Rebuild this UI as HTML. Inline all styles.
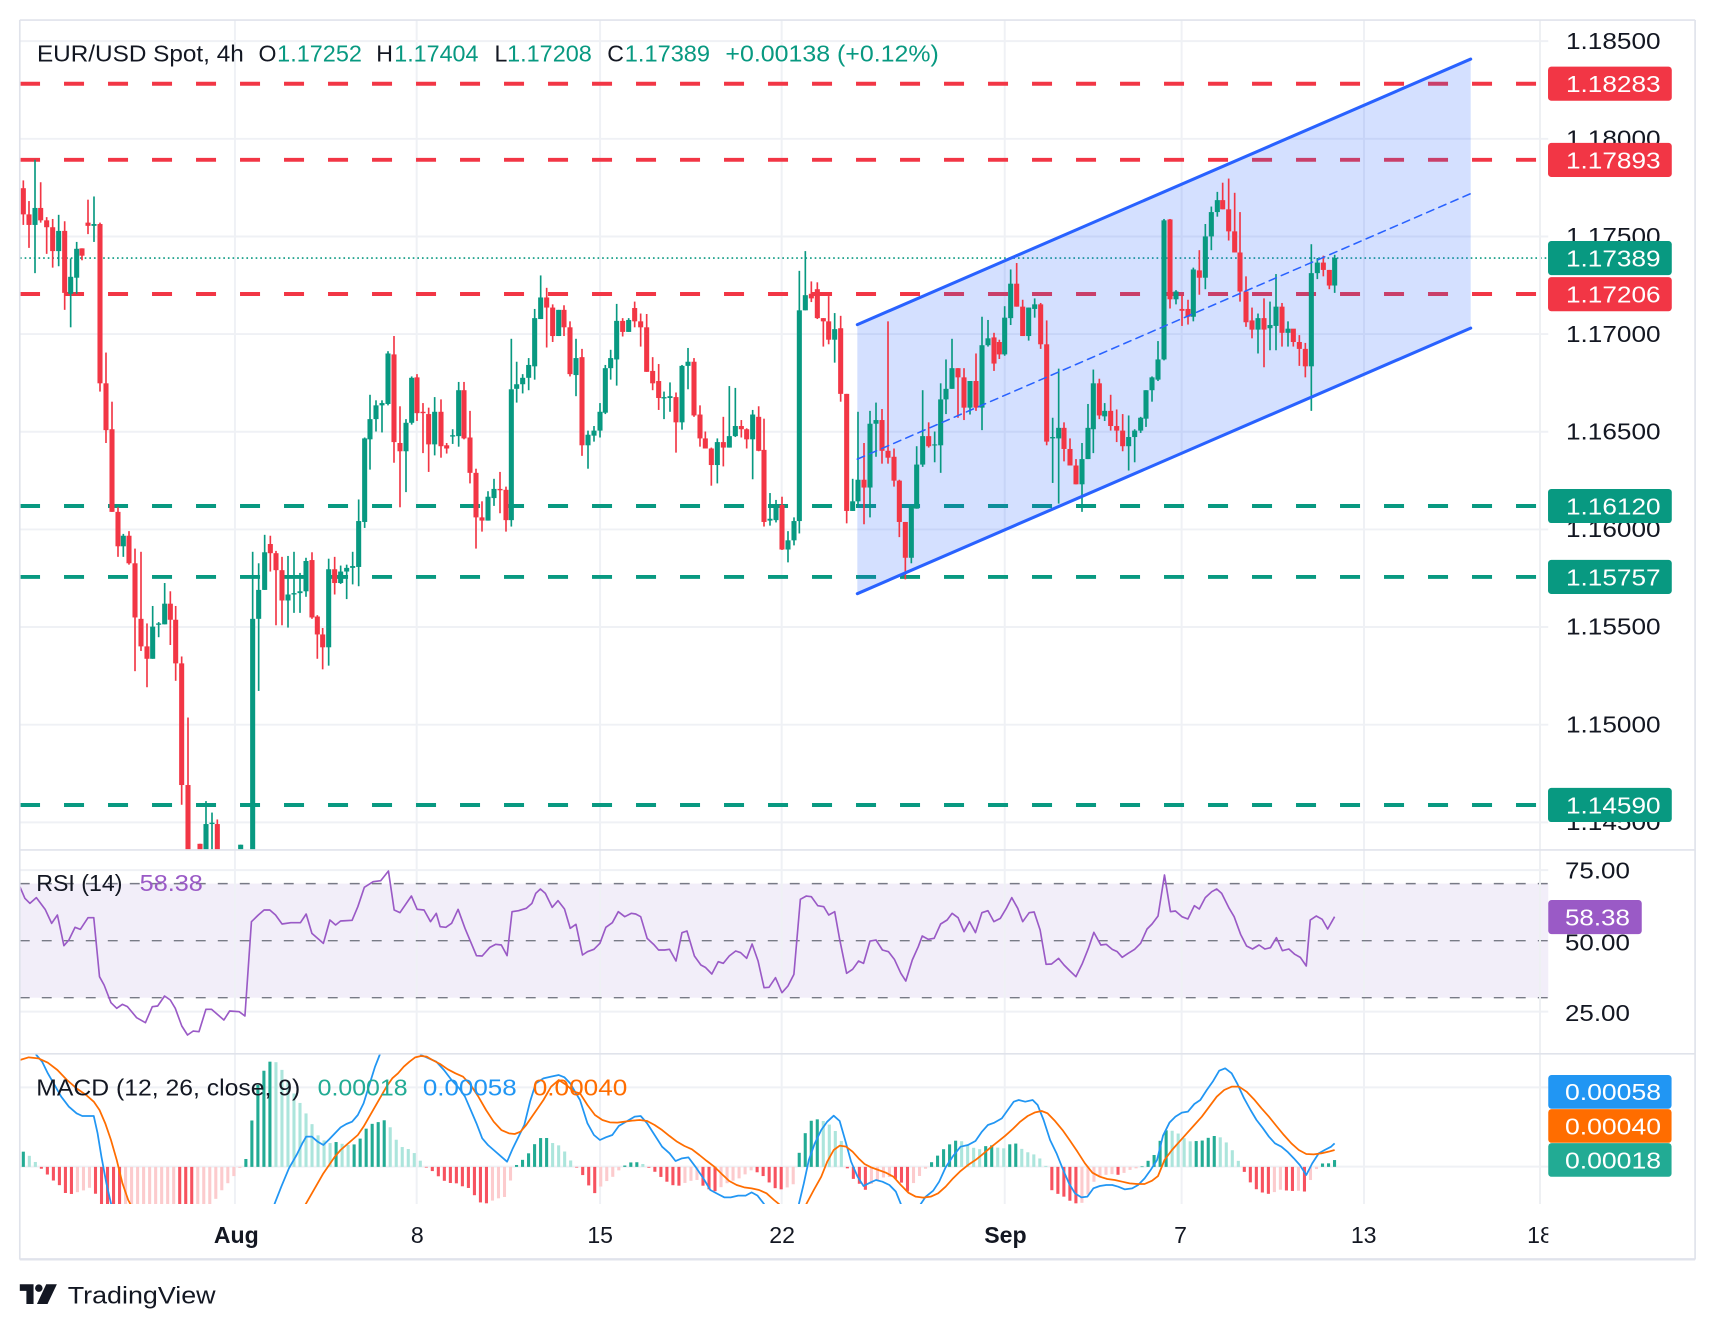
<!DOCTYPE html>
<html><head><meta charset="utf-8">
<style>
html,body{margin:0;padding:0;background:#fff;}
svg{display:block;}
text{font-family:"Liberation Sans",Arial,sans-serif;}
</style></head>
<body>
<svg id="s" width="1716" height="1330" viewBox="0 0 1560 1209.09">
<defs>
<clipPath id="cp"><rect x="18" y="18.2" width="1389.5" height="754.5"/></clipPath>
<clipPath id="cr"><rect x="18" y="772.7" width="1389.5" height="185.3"/></clipPath>
<clipPath id="cm"><rect x="18" y="958" width="1389.5" height="136.5"/></clipPath>
<clipPath id="ct"><rect x="18" y="1095" width="1389.5" height="50"/></clipPath>
</defs>
<rect width="1560" height="1209.09" fill="#fff"/>

<!-- price gridlines -->
<g stroke="#eff1f5" stroke-width="1.8">
<line x1="18" x2="1407.5" y1="37.4" y2="37.4"/>
<line x1="18" x2="1407.5" y1="126.2" y2="126.2"/>
<line x1="18" x2="1407.5" y1="215" y2="215"/>
<line x1="18" x2="1407.5" y1="303.7" y2="303.7"/>
<line x1="18" x2="1407.5" y1="392.5" y2="392.5"/>
<line x1="18" x2="1407.5" y1="481.3" y2="481.3"/>
<line x1="18" x2="1407.5" y1="570" y2="570"/>
<line x1="18" x2="1407.5" y1="658.8" y2="658.8"/>
<line x1="18" x2="1407.5" y1="747.6" y2="747.6"/>
</g>

<!-- RSI background band & grid -->
<rect x="18" y="803.3" width="1389.5" height="103.7" fill="#f2eef9"/>
<g stroke="#eff1f5" stroke-width="1.8">
<line x1="18" x2="1407.5" y1="791" y2="791"/>
<line x1="18" x2="1407.5" y1="919.7" y2="919.7"/>
<line x1="18" x2="1407.5" y1="988.5" y2="988.5"/>
<line x1="18" x2="1407.5" y1="1060.6" y2="1060.6"/>
</g>

<!-- vertical gridlines -->
<g stroke="#eff1f5" stroke-width="1.8">
<line x1="213.6" x2="213.6" y1="18.2" y2="1094.5"/>
<line x1="378.8" x2="378.8" y1="18.2" y2="1094.5"/>
<line x1="545.5" x2="545.5" y1="18.2" y2="1094.5"/>
<line x1="710.6" x2="710.6" y1="18.2" y2="1094.5"/>
<line x1="913.4" x2="913.4" y1="18.2" y2="1094.5"/>
<line x1="1074.2" x2="1074.2" y1="18.2" y2="1094.5"/>
<line x1="1240" x2="1240" y1="18.2" y2="1094.5"/>
</g>

<!-- RSI dashed levels -->
<g stroke="#787b86" stroke-width="1.3" stroke-dasharray="9 11">
<line x1="18" x2="1407.5" y1="803.3" y2="803.3"/>
<line x1="18" x2="1407.5" y1="855.2" y2="855.2"/>
<line x1="18" x2="1407.5" y1="907" y2="907"/>
</g>

<!-- horizontal S/R dashed lines -->
<g stroke-width="3.6" stroke-dasharray="18.2 21.8">
<line x1="18.2" x2="1407" y1="76.1" y2="76.1" stroke="#f23645"/>
<line x1="18.2" x2="1407" y1="145.3" y2="145.3" stroke="#f23645"/>
<line x1="18.2" x2="1407" y1="267.3" y2="267.3" stroke="#f23645"/>
<line x1="18.2" x2="1407" y1="460" y2="460" stroke="#089981"/>
<line x1="18.2" x2="1407" y1="524.5" y2="524.5" stroke="#089981"/>
<line x1="18.2" x2="1407" y1="731.8" y2="731.8" stroke="#089981"/>
</g>
<line x1="18.2" x2="1407" y1="234.6" y2="234.6" stroke="#089981" stroke-width="1.4" stroke-dasharray="1.5 2.7"/>

<!-- channel fill -->
<polygon points="779.4,295.1 1337,53.7 1337,298.3 779.4,539.7" fill="rgba(41,98,255,0.2)"/>

<!-- candles -->
<g id="candles" clip-path="url(#cp)"></g>

<!-- channel lines -->
<g stroke="#2962ff" stroke-linecap="round">
<line x1="779.4" y1="295.1" x2="1337" y2="53.7" stroke-width="2.8"/>
<line x1="779.4" y1="539.7" x2="1337" y2="298.3" stroke-width="2.8"/>
<line x1="779.4" y1="417.4" x2="1337" y2="176" stroke-width="1.4" stroke-dasharray="7 5"/>
</g>

<!-- header -->
<g font-size="21">
<text x="33.6" y="56" textLength="188" lengthAdjust="spacingAndGlyphs" fill="#131722">EUR/USD Spot, 4h</text>
<text x="235" y="56" fill="#131722">O</text>
<text x="252" y="56" textLength="77" lengthAdjust="spacingAndGlyphs" fill="#089981">1.17252</text>
<text x="342" y="56" fill="#131722">H</text>
<text x="358.4" y="56" textLength="76.6" lengthAdjust="spacingAndGlyphs" fill="#089981">1.17404</text>
<text x="449.5" y="56" fill="#131722">L</text>
<text x="461" y="56" textLength="77" lengthAdjust="spacingAndGlyphs" fill="#089981">1.17208</text>
<text x="552" y="56" fill="#131722">C</text>
<text x="568" y="56" textLength="77.5" lengthAdjust="spacingAndGlyphs" fill="#089981">1.17389</text>
<text x="659.5" y="56" textLength="194" lengthAdjust="spacingAndGlyphs" fill="#089981">+0.00138 (+0.12%)</text>
</g>

<!-- RSI -->
<g id="rsi" clip-path="url(#cr)"></g>
<g font-size="21">
<text x="33" y="810" textLength="78.3" lengthAdjust="spacingAndGlyphs" fill="#131722">RSI (14)</text>
<text x="127" y="810" textLength="57.4" lengthAdjust="spacingAndGlyphs" fill="#9a5ac6">58.38</text>
</g>

<!-- MACD -->
<g id="hist" clip-path="url(#cm)"></g>
<g id="macd" clip-path="url(#cm)"></g>
<g font-size="21">
<text x="33" y="996" textLength="240" lengthAdjust="spacingAndGlyphs" fill="#131722">MACD (12, 26, close, 9)</text>
<text x="288.8" y="996" textLength="81.7" lengthAdjust="spacingAndGlyphs" fill="#22ab94">0.00018</text>
<text x="384.4" y="996" textLength="85.3" lengthAdjust="spacingAndGlyphs" fill="#2196f3">0.00058</text>
<text x="484.3" y="996" textLength="86" lengthAdjust="spacingAndGlyphs" fill="#ff6d00">0.00040</text>
</g>

<!-- separators and frame -->
<line x1="1400" x2="1400" y1="18.2" y2="1094.5" stroke="#eef0f3" stroke-width="1.8"/>
<g stroke="#e0e3eb" stroke-width="1.5" fill="none">
<line x1="18" x2="1541" y1="772.7" y2="772.7"/>
<line x1="18" x2="1541" y1="958" y2="958"/>
<line x1="18" x2="1541" y1="18.2" y2="18.2"/>
<line x1="18" x2="18" y1="18.2" y2="1145"/>
<line x1="1541" x2="1541" y1="18.2" y2="1145"/>
<line x1="18" x2="1541" y1="1144.8" y2="1144.8" stroke-width="2.2"/>
</g>

<!-- price axis tick labels -->
<g font-size="21" fill="#131722">
<text x="1423.6" y="44.4" textLength="86" lengthAdjust="spacingAndGlyphs">1.18500</text>
<text x="1423.6" y="133.2" textLength="86" lengthAdjust="spacingAndGlyphs">1.18000</text>
<text x="1423.6" y="222" textLength="86" lengthAdjust="spacingAndGlyphs">1.17500</text>
<text x="1423.6" y="310.7" textLength="86" lengthAdjust="spacingAndGlyphs">1.17000</text>
<text x="1423.6" y="399.5" textLength="86" lengthAdjust="spacingAndGlyphs">1.16500</text>
<text x="1423.6" y="488.3" textLength="86" lengthAdjust="spacingAndGlyphs">1.16000</text>
<text x="1423.6" y="577" textLength="86" lengthAdjust="spacingAndGlyphs">1.15500</text>
<text x="1423.6" y="665.8" textLength="86" lengthAdjust="spacingAndGlyphs">1.15000</text>
<text x="1423.6" y="754.6" textLength="86" lengthAdjust="spacingAndGlyphs">1.14500</text>
<text x="1422.7" y="798.6" textLength="59" lengthAdjust="spacingAndGlyphs">75.00</text>
<text x="1422.7" y="864" textLength="59" lengthAdjust="spacingAndGlyphs">50.00</text>
<text x="1422.7" y="928" textLength="59" lengthAdjust="spacingAndGlyphs">25.00</text>
</g>

<!-- price label boxes -->
<g>
<rect x="1407.3" y="60.6" width="112.5" height="31" rx="3" fill="#f23645"/>
<rect x="1407.3" y="129.9" width="112.5" height="31" rx="3" fill="#f23645"/>
<rect x="1407.3" y="219.1" width="112.5" height="31" rx="3" fill="#089981"/>
<rect x="1407.3" y="251.9" width="112.5" height="31" rx="3" fill="#f23645"/>
<rect x="1407.3" y="444.5" width="112.5" height="31" rx="3" fill="#089981"/>
<rect x="1407.3" y="509" width="112.5" height="31" rx="3" fill="#089981"/>
<rect x="1407.3" y="716.3" width="112.5" height="31" rx="3" fill="#089981"/>
<rect x="1407.5" y="818.2" width="85" height="31" rx="3" fill="#9a5ac6"/>
<rect x="1407.5" y="977.3" width="112.1" height="30.6" rx="3" fill="#2196f3"/>
<rect x="1407.5" y="1008.3" width="112.1" height="30.6" rx="3" fill="#ff6d00"/>
<rect x="1407.5" y="1039.2" width="112.1" height="30.6" rx="3" fill="#22ab94"/>
</g>
<g font-size="21" fill="#ffffff">
<text x="1423.6" y="83.7" textLength="86" lengthAdjust="spacingAndGlyphs">1.18283</text>
<text x="1423.6" y="153" textLength="86" lengthAdjust="spacingAndGlyphs">1.17893</text>
<text x="1423.6" y="242.2" textLength="86" lengthAdjust="spacingAndGlyphs">1.17389</text>
<text x="1423.6" y="275" textLength="86" lengthAdjust="spacingAndGlyphs">1.17206</text>
<text x="1423.6" y="467.6" textLength="86" lengthAdjust="spacingAndGlyphs">1.16120</text>
<text x="1423.6" y="532.1" textLength="86" lengthAdjust="spacingAndGlyphs">1.15757</text>
<text x="1423.6" y="739.4" textLength="86" lengthAdjust="spacingAndGlyphs">1.14590</text>
<text x="1422.7" y="841.3" textLength="59" lengthAdjust="spacingAndGlyphs">58.38</text>
<text x="1422.7" y="1000.2" textLength="87.3" lengthAdjust="spacingAndGlyphs">0.00058</text>
<text x="1422.7" y="1031.2" textLength="87.3" lengthAdjust="spacingAndGlyphs">0.00040</text>
<text x="1422.7" y="1062.1" textLength="87.3" lengthAdjust="spacingAndGlyphs">0.00018</text>
</g>

<!-- time axis -->
<g font-size="21" fill="#131722" text-anchor="middle" clip-path="url(#ct)">
<text x="214.8" y="1130" font-weight="bold">Aug</text>
<text x="379.4" y="1130">8</text>
<text x="545.6" y="1130">15</text>
<text x="711" y="1130">22</text>
<text x="914" y="1130" font-weight="bold">Sep</text>
<text x="1073.2" y="1130">7</text>
<text x="1239.7" y="1130">13</text>
<text x="1400" y="1130">18</text>
</g>

<!-- logo -->
<g fill="#131722">
<path d="M18 1167.5 H30.5 V1185.5 H24 V1173.5 H18 Z"/>
<circle cx="35.3" cy="1171" r="3.4"/>
<path d="M42 1167.5 H51.7 L43.2 1185.5 H33.6 Z"/>
<text x="61.6" y="1185" font-size="22" textLength="134.4" lengthAdjust="spacingAndGlyphs">TradingView</text>
</g>
</svg>

<script>
(function(){
function f(v){return v.toFixed(2);}
var Y6=function(py){return 127.27+py*0.41736;};
var z6=[[10,0,105,162,88,185],[27,0,162,185,133,235],[45,1,148,185,43,290],[62,0,148,175,92,180],[80,0,175,190,168,248],[98,0,190,242,172,278],[116,1,198,242,163,275],[134,0,198,333,177,370],[152,1,298,335,258,408],[170,1,237,300,222,335],[186,0,236,252,236,262],[204,0,180,187,130,205],[222,1,183,187,123,222],[240,0,183,530,180,548],[258,0,530,632,463,660],[276,0,630,810,570,810],[294,0,810,885,800,908],[310,1,862,885,858,908],[327,0,862,922,852,925],[345,0,922,1040,890,1157],[363,0,1043,1103,897,1113],[381,0,1103,1130,1053,1192],[398,1,1060,1130,1015,1130],[416,1,1053,1056,1050,1083],[434,1,1010,1055,965,1055],[451,0,1010,1045,983,1100],[467,0,1045,1140,1015,1178],[485,0,1140,1405,1125,1448],[504,0,1405,1700,1258,1700],[540,0,1533,1700,1533,1700],[558,1,1490,1700,1440,1700],[576,1,1487,1490,1465,1700],[592,0,1490,1700,1480,1700],[662,1,1535,1700,1535,1700],[698,1,1043,1700,897,1700],[716,1,980,1043,922,1200],[734,1,898,980,860,980],[751,0,880,900,862,940],[768,0,900,937,895,1057],[786,0,937,1003,908,1057],[804,1,990,1003,906,1062],[822,1,987,990,897,1030],[840,1,983,987,943,1030],[858,1,917,983,910,995],[876,0,915,1040,898,1043],[892,0,1038,1077,1035,1130],[908,0,1077,1105,1063,1153],[926,1,935,1105,912,1145],[944,0,935,965,908,990],[962,1,940,965,927,967],[980,1,932,940,925,1000],[998,1,928,932,897,968],[1016,1,830,930,783,972],[1034,1,650,832,648,845],[1050,1,608,652,555,718],[1068,1,578,608,567,635],[1086,1,573,578,567,637],[1104,1,465,575,460,578],[1122,0,467,658,427,703],[1140,0,660,678,580,800],[1158,1,616,678,608,767],[1175,1,518,616,515,620],[1191,0,517,595,510,612],[1209,0,592,595,573,682],[1226,0,597,663,583,723],[1244,1,592,663,560,687]];
var z7=[[33,0,592,667,565,692],[50,0,665,672,660,683],[68,1,643,646,630,662],[86,1,545,645,527,668],[102,0,545,650,527,652],[120,0,648,725,590,748],[138,0,725,822,716,890],[156,0,822,829,787,853],[174,1,777,829,765,829],[192,1,760,780,738,797],[210,0,760,763,723,813],[228,0,762,828,755,853],[244,1,543,828,433,842],[260,1,532,542,483,572],[278,1,518,532,510,552],[296,1,490,518,475,545],[314,1,388,493,368,522],[332,1,343,390,295,390],[350,0,343,365,322,452],[368,0,365,427,358,440],[386,1,370,427,370,427],[402,0,370,408,360,427],[420,0,408,510,395,515],[438,1,475,512,433,558],[456,0,473,665,455,688],[474,1,642,665,633,716],[492,1,633,644,623,657],[510,1,592,633,573,648],[526,1,497,594,490,597],[542,1,475,497,457,522],[560,1,394,478,357,535],[578,0,394,418,388,428],[596,1,392,418,388,418],[614,0,366,395,352,408],[632,0,395,408,378,450],[650,0,408,505,379,505],[668,0,503,530,473,545],[686,0,525,562,488,588],[702,1,560,563,548,608],[720,1,558,562,528,592],[738,0,560,615,550,681],[756,1,492,615,490,631],[774,1,483,492,453,543],[792,0,483,600,475,603],[810,0,598,650,578,668],[826,0,650,672,635,672],[844,0,672,708,670,753],[862,1,658,708,650,748],[880,0,658,670,603,711],[898,1,645,670,536,670],[916,1,623,645,540,647],[934,0,623,630,610,648],[950,0,630,652,628,672],[968,1,598,652,588,739],[986,0,603,677,580,678],[1002,0,675,832,607,842],[1020,1,825,829,769,840],[1038,1,797,828,784,833],[1056,0,795,892,777,893],[1074,1,872,892,852,920],[1092,1,830,872,822,883],[1108,1,371,830,285,857],[1126,1,338,371,242,371],[1144,0,335,345,308,353],[1162,0,325,388,310,390],[1180,0,388,395,388,450],[1196,0,395,435,340,445],[1214,1,412,435,377,485],[1232,0,410,553,383,570],[1250,0,553,808,553,835]];
var z8=[[38,1,787,808,738,808],[54,1,740,787,592,797],[72,0,740,757,660,837],[90,1,618,757,590,822],[108,1,610,618,572,690],[126,0,610,677,586,705],[144,0,677,692,395,705],[162,0,690,742,672,755],[178,0,742,832,740,865],[196,0,832,910,832,957],[214,1,797,910,797,922],[230,1,707,803,667,803],[248,1,645,707,545,712],[266,0,645,667,615,670],[284,1,663,665,635,702],[302,1,565,665,530,725],[318,1,542,565,478,597],[336,1,497,542,433,542],[354,0,497,517,497,605],[372,0,517,583,497,610],[390,1,525,583,525,598],[408,0,525,583,465,590],[426,1,447,583,385,632],[444,1,432,447,392,450],[462,0,430,487,420,503],[478,0,440,467,435,477],[494,1,387,467,362,470],[512,1,313,388,282,403],[530,0,313,363,268,363],[548,0,363,427,348,427],[566,1,365,427,365,437],[584,1,358,368,345,387],[602,0,358,445,355,455],[620,0,445,657,393,665],[638,1,647,650,605,747],[656,1,627,650,498,792],[672,0,627,673,615,700],[690,0,673,709,650,709],[708,0,709,750,695,750],[726,1,695,750,660,810],[744,1,627,695,575,695],[760,1,530,630,500,682],[778,0,530,600,520,608],[794,1,590,602,573,612],[812,0,590,623,555,633],[830,0,623,633,587,658],[848,0,633,667,597,678],[866,1,647,667,600,720],[884,1,633,647,630,702],[902,1,605,633,603,638],[918,1,545,607,545,625],[936,1,517,545,515,570],[954,1,478,522,438,525],[972,1,175,478,172,480],[990,0,173,347,172,367],[1008,1,330,347,327,358],[1026,0,368,372,337,405],[1044,0,368,385,348,402],[1060,1,282,385,278,395],[1078,0,284,300,240,337],[1096,1,210,300,183,325],[1114,1,157,210,145,240],[1132,1,131,157,113,167],[1148,0,131,151,93,151],[1166,0,151,199,84,219],[1184,0,199,245,115,245],[1200,0,245,330,157,352],[1218,0,330,397,297,407],[1236,0,393,413,365,432],[1254,1,388,413,378,465],[1272,0,388,413,345,495],[1290,1,403,410,352,458],[1308,1,363,405,292,458],[1326,0,363,420,355,450],[1344,1,411,420,395,450],[1360,0,411,440,412,450],[1378,0,440,455,425,492],[1396,0,455,493,442,517],[1414,1,290,493,227,590],[1432,1,267,290,257,303],[1450,0,267,283,252,297],[1468,0,283,317,283,325],[1484,1,257,317,250,333]];
var out='';
function addC(list,x0){
  for(var i=0;i<list.length;i++){
    var c=list[i];
    var x=x0+c[0]*0.30303;
    var bt=Y6(c[2]),bb=Y6(c[3]),wt=Y6(c[4]),wb=Y6(c[5]);
    var col=c[1]?'#089981':'#f23645';
    out+='<rect x="'+f(x-0.75)+'" y="'+f(wt)+'" width="1.5" height="'+f(Math.max(wb-wt,0.5))+'" fill="'+col+'"/>';
    out+='<rect x="'+f(x-2.3)+'" y="'+f(bt)+'" width="4.6" height="'+f(Math.max(bb-bt,1))+'" fill="'+col+'"/>';
  }
}
addC(z6,18.18);addC(z7,390.91);addC(z8,763.64);
document.getElementById('candles').innerHTML=out;

/* RSI */
var r4=[[52,140],[65,175],[78,190],[95,173],[118,208],[135,250],[150,225],[167,317],[180,300],[196,262],[210,268],[230,233],[245,233],[260,410],[272,435],[290,488],[305,505],[320,493],[333,500],[357,533],[380,548],[398,500],[412,498],[430,468],[445,480],[458,505],[475,558],[490,585],[505,573],[520,575],[538,508],[553,508],[585,540],[600,513],[625,515],[640,528],[657,245],[675,225],[690,210],[705,210],[720,225],[737,252],[760,248],[785,248],[800,222],[815,280],[845,310],[862,240],[877,255],[890,243],[920,241],[935,200],[952,142],[975,125],[995,122],[1015,93],[1030,210],[1045,218],[1075,168],[1090,208],[1108,210],[1125,245],[1140,220],[1150,260],[1165,262],[1180,250],[1197,208],[1215,265],[1245,347],[1260,348],[1280,322],[1295,313],[1310,315],[1325,347],[1338,215],[1355,212],[1375,205],[1390,190],[1400,160],[1412,147],[1425,160],[1443,202],[1458,182],[1475,207],[1490,265],[1505,253]];
var r9=[[5,315],[15,305],[28,298],[40,280],[52,232],[65,218],[77,185],[90,200],[103,190],[112,192],[122,200],[135,265],[148,283],[158,300],[170,300],[180,298],[193,333],[205,248],[215,243],[230,318],[243,345],[252,352],[265,372],[278,335],[288,340],[300,318],[313,303],[323,308],[335,325],[346,282],[358,333],[370,413],[380,412],[393,383],[406,428],[418,408],[430,373],[443,148],[455,138],[465,140],[478,167],[490,170],[500,195],[512,185],[522,268],[536,370],[548,358],[560,333],[570,340],[583,273],[595,270],[608,300],[620,305],[632,328],[645,370],[655,393],[668,330],[680,290],[688,258],[700,268],[712,265],[725,222],[738,210],[748,190],[760,203],[772,245],[783,215],[795,248],[808,188],[820,182],[832,215],[845,205],[857,175],[868,143],[880,175],[890,215],[903,188],[913,186],[925,240],[937,343],[948,342],[962,325],[973,345],[985,363],[997,380],[1010,340],[1022,295],[1033,247],[1047,285],[1058,283],[1070,298],[1080,305],[1090,322],[1102,310],[1115,298],[1127,280],[1140,237],[1150,222],[1162,198],[1175,75],[1187,185],[1197,183],[1210,200],[1222,207],[1235,167],[1245,177],[1257,143],[1270,125],[1280,117],[1290,130],[1305,175],[1315,200],[1328,253],[1340,288],[1352,297],[1365,285],[1377,297],[1388,293],[1400,263],[1412,302],[1425,297],[1437,313],[1448,322],[1460,348],[1468,210],[1480,198],[1492,208],[1503,237],[1517,200]];
function m4(l){return l.map(function(p){return [p[0]*0.34791,763.64+p[1]*0.30303];});}
function m9(l){return l.map(function(p){return [527.27+p[0]*0.45222,772.73+p[1]*0.30303];});}
function m10(l){return l.map(function(p){return [527.27+p[0]*0.45222,954.55+p[1]*0.30303];});}
function pts(a){return a.map(function(p){return f(p[0])+','+f(p[1]);}).join(' ');}
var rs=m4(r4).concat(m9(r9));
document.getElementById('rsi').innerHTML='<polyline points="'+pts(rs)+'" fill="none" stroke="#9a5ac6" stroke-width="1.5" stroke-linejoin="round"/>';

/* MACD */
var b4=[[60,560],[95,645],[110,665],[125,700],[140,730],[160,770],[180,800],[200,820],[215,828],[230,828],[245,828],[255,880],[265,950],[278,1030],[290,1090],[320,1250],[600,1300],[700,1150],[718,1090],[735,1040],[755,985],[775,945],[790,910],[800,890],[815,890],[830,905],[845,915],[860,898],[875,880],[890,862],[905,852],[920,845],[935,825],[950,790],[965,735],[980,680],[992,645],[1010,590],[1050,560],[1090,620],[1100,645],[1120,655],[1140,665],[1160,690],[1180,720],[1200,745],[1215,770],[1230,810],[1245,850],[1260,895],[1275,915],[1290,930],[1310,950],[1325,965],[1340,925],[1355,890],[1370,855],[1385,785],[1400,730],[1420,715],[1440,710],[1460,705],[1475,712],[1490,730],[1505,760]];
var o4=[[52,660],[75,652],[100,655],[125,668],[150,690],[175,720],[200,745],[225,765],[245,785],[260,810],[275,850],[290,900],[305,960],[320,1030],[335,1080],[342,1095],[400,1250],[700,1250],[790,1110],[800,1090],[815,1060],[830,1030],[845,1000],[860,975],[875,950],[890,930],[905,915],[920,900],[935,885],[950,860],[965,830],[980,800],[995,770],[1010,740],[1025,715],[1040,700],[1055,680],[1070,665],[1085,652],[1100,648],[1115,650],[1130,660],[1150,672],[1170,688],[1190,700],[1210,710],[1230,735],[1250,770],[1270,810],[1290,845],[1310,870],[1330,880],[1345,882],[1360,875],[1375,855],[1390,830],[1405,805],[1420,780],[1440,740],[1460,720],[1480,735],[1500,755]];
var b10=[[0,150],[15,220],[28,255],[40,270],[52,262],[65,255],[78,228],[95,213],[110,200],[122,198],[135,220],[150,255],[165,290],[180,310],[192,333],[205,325],[218,322],[232,350],[248,385],[262,420],[277,432],[290,442],[303,442],[318,437],[333,437],[345,427],[357,437],[370,462],[385,530],[425,540],[440,462],[450,400],[460,330],[472,280],[485,240],[497,215],[510,197],[522,213],[533,270],[545,335],[558,380],[570,408],[583,398],[595,390],[608,395],[622,405],[635,425],[645,462],[660,520],[675,500],[685,462],[695,440],[710,422],[722,395],[735,352],[750,318],[765,290],[780,285],[795,273],[808,245],[820,225],[833,218],[848,205],[860,180],[872,155],[882,150],[895,155],[910,150],[920,165],[932,210],[945,270],[958,310],[970,355],[983,400],[995,430],[1008,442],[1020,440],[1032,415],[1045,408],[1058,405],[1070,405],[1082,410],[1095,418],[1110,415],[1122,405],[1135,385],[1148,358],[1160,330],[1172,257],[1185,218],[1197,200],[1210,188],[1222,185],[1235,162],[1247,150],[1260,120],[1272,95],[1285,62],[1297,55],[1310,70],[1322,103],[1335,145],[1348,180],[1360,210],[1372,233],[1385,260],[1397,280],[1410,290],[1422,305],[1435,325],[1447,345],[1460,375],[1472,340],[1485,310],[1497,300],[1510,290],[1517,280]];
var o10=[[0,130],[15,165],[30,195],[45,210],[60,217],[75,218],[90,215],[105,212],[120,210],[135,213],[150,225],[165,240],[180,258],[195,275],[210,288],[225,298],[240,315],[255,333],[270,350],[285,372],[300,393],[315,405],[330,412],[345,415],[360,420],[375,430],[390,450],[400,462],[420,510],[445,500],[455,462],[470,420],[485,380],[497,335],[510,300],[522,287],[535,290],[548,305],[560,325],[572,342],[585,352],[600,360],[615,368],[630,380],[645,405],[660,428],[675,440],[690,443],[705,440],[720,430],[735,410],[750,385],[765,363],[780,345],[795,330],[810,312],[825,293],[840,275],[855,257],[870,237],[885,215],[900,198],[915,187],[928,183],[940,190],[955,213],[970,240],[985,272],[1000,305],[1015,340],[1030,368],[1045,380],[1060,387],[1075,390],[1090,395],[1105,400],[1120,402],[1135,402],[1150,392],[1162,378],[1175,330],[1190,300],[1205,275],[1220,250],[1235,225],[1250,200],[1265,170],[1280,140],[1295,120],[1310,110],[1325,110],[1340,125],[1355,148],[1370,175],[1385,200],[1400,228],[1415,255],[1430,280],[1445,300],[1460,312],[1475,313],[1490,310],[1505,305],[1517,300]];
var h4=[[55,935],[65,935],[75,945],[85,960],[95,968],[105,980],[110,990],[120,998],[135,1020],[150,1025],[165,1055],[180,1065],[195,1058],[210,1055],[225,1048],[240,1040],[258,1080],[270,1100],[290,1130],[310,1150],[330,1140],[400,1120],[460,1110],[475,1120],[505,1140],[520,1130],[535,1110],[550,1095],[565,1075],[580,1050],[595,1030],[610,1010],[625,985],[640,975],[657,850],[672,740],[688,695],[705,665],[720,665],[737,690],[752,720],[768,760],[782,785],[797,815],[812,845],[830,885],[845,900],[860,910],[875,905],[890,910],[905,915],[920,915],[935,910],[950,875],[965,855],[980,848],[995,845],[1010,838],[1025,875],[1040,910],[1055,925],[1072,928],[1088,945],[1100,965],[1112,978],[1120,990],[1135,995],[1150,1015],[1165,1025],[1180,1030],[1195,1030],[1210,1040],[1228,1045],[1245,1075],[1262,1095],[1280,1085],[1295,1078],[1310,1072],[1325,1070],[1338,1000],[1352,970],[1365,960],[1380,942],[1395,915],[1410,895],[1425,890],[1440,908],[1455,912],[1470,925],[1490,960],[1505,978],[1520,1000],[1535,1030]];
var h10=[[28,432],[40,412],[52,395],[65,382],[75,365],[85,352],[98,338],[110,336],[122,338],[135,350],[148,362],[158,375],[170,390],[182,403],[195,410],[208,400],[220,395],[232,385],[245,405],[258,417],[270,425],[283,412],[295,400],[308,392],[320,385],[333,372],[345,360],[358,368],[370,380],[383,402],[395,418],[408,418],[420,410],[432,400],[440,312],[452,252],[465,212],[477,208],[488,212],[500,222],[512,240],[525,270],[535,348],[548,385],[560,398],[572,422],[583,405],[595,392],[608,383],[620,380],[632,385],[645,395],[658,425],[670,400],[680,382],[690,366],[700,345],[712,330],[725,305],[737,290],[750,275],[762,268],[775,282],[787,290],[800,300],[810,293],[822,283],[835,290],[848,298],[858,290],[868,278],[880,282],[890,300],[902,308],[912,313],[922,320],[930,338],[938,350],[948,420],[958,430],[970,437],[982,450],[995,460],[1008,460],[1018,445],[1030,400],[1040,385],[1055,375],[1068,372],[1080,375],[1092,370],[1105,360],[1118,355],[1128,352],[1140,335],[1150,322],[1160,305],[1172,242],[1185,240],[1197,245],[1210,258],[1222,275],[1235,272],[1245,275],[1257,268],[1270,258],[1282,258],[1295,268],[1305,290],[1318,312],[1328,350],[1340,375],[1352,410],[1362,420],[1375,430],[1387,432],[1398,425],[1410,418],[1422,422],[1435,423],[1447,422],[1458,425],[1470,385],[1480,358],[1493,340],[1505,340],[1517,330]];
var H=m4(h4).concat(m10(h10));
function interp(a,x){
  if(x<=a[0][0])return a[0][1];
  for(var i=1;i<a.length;i++){
    if(x<=a[i][0]){var t=(x-a[i-1][0])/(a[i][0]-a[i-1][0]);return a[i-1][1]+t*(a[i][1]-a[i-1][1]);}
  }
  return a[a.length-1][1];
}
var zero=1060.8,hs='',prev=null;
for(var i=0;i<219;i++){
  var x=21.2+i*5.468;
  var y=interp(H,x);
  var v=zero-y;
  var col;
  if(v>=0){col=(prev===null||v>=prev)?'#22ab94':'#ace5dc';}
  else{col=(prev===null||v<=prev)?'#f7525f':'#fccbcd';}
  prev=v;
  var top=Math.min(y,zero),h=Math.max(Math.abs(v),0.6);
  hs+='<rect x="'+f(x-1.4)+'" y="'+f(top)+'" width="2.8" height="'+f(h)+'" fill="'+col+'"/>';
}
document.getElementById('hist').innerHTML=hs;
var bl=m4(b4).concat(m10(b10)),ol=m4(o4).concat(m10(o10));
document.getElementById('macd').innerHTML=
 '<polyline points="'+pts(bl)+'" fill="none" stroke="#2196f3" stroke-width="1.6" stroke-linejoin="round"/>'+
 '<polyline points="'+pts(ol)+'" fill="none" stroke="#ff6d00" stroke-width="1.6" stroke-linejoin="round"/>';
})();
</script>
</body></html>
